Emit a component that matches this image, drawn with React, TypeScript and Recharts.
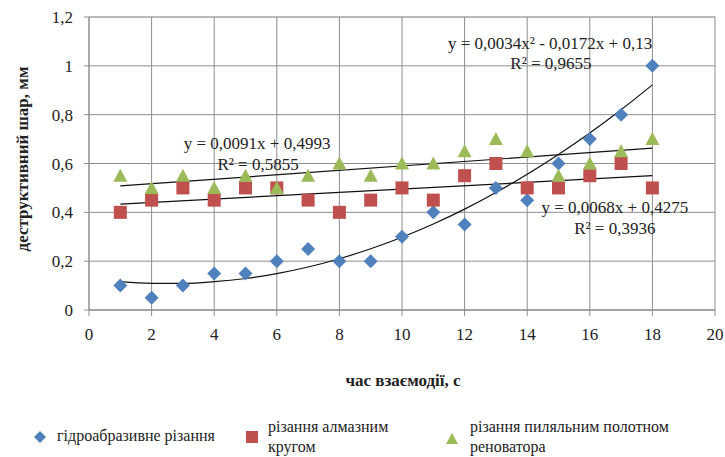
import React from 'react';
import {
  ComposedChart, Scatter, Line, XAxis, YAxis, CartesianGrid, ReferenceDot, Legend,
} from 'recharts';

const timeValues = [1, 2, 3, 4, 5, 6, 7, 8, 9, 10, 11, 12, 13, 14, 15, 16, 17, 18];
const hydroValues = [0.1, 0.05, 0.1, 0.15, 0.15, 0.2, 0.25, 0.2, 0.2, 0.3, 0.4, 0.35, 0.5, 0.45, 0.6, 0.7, 0.8, 1.0];
const diamondValues = [0.4, 0.45, 0.5, 0.45, 0.5, 0.5, 0.45, 0.4, 0.45, 0.5, 0.45, 0.55, 0.6, 0.5, 0.5, 0.55, 0.6, 0.5];
const sawValues = [0.55, 0.5, 0.55, 0.5, 0.55, 0.5, 0.55, 0.6, 0.55, 0.6, 0.6, 0.65, 0.7, 0.65, 0.55, 0.6, 0.65, 0.7];

// trend lines
const hydroTrend = [0.116, 0.109, 0.109, 0.116, 0.129, 0.149, 0.176, 0.21, 0.251, 0.298, 0.352, 0.413, 0.481, 0.556, 0.637, 0.725, 0.82, 0.922];
const diamondTrendX = [1, 18];
const diamondTrend = [0.434, 0.550];
const sawTrendX = [1, 18];
const sawTrend = [0.508, 0.663];

const xTicks = [0, 2, 4, 6, 8, 10, 12, 14, 16, 18, 20];
const yTicks = [0, 0.2, 0.4, 0.6, 0.8, 1.0, 1.2];
const yMinorTicks = [
  0, 0.04, 0.08, 0.12, 0.16, 0.2, 0.24, 0.28, 0.32, 0.36, 0.4, 0.44, 0.48, 0.52, 0.56, 0.6,
  0.64, 0.68, 0.72, 0.76, 0.8, 0.84, 0.88, 0.92, 0.96, 1.0, 1.04, 1.08, 1.12, 1.16, 1.2,
];

const seriesNames = ['гідроабразивне різання', 'різання алмазним кругом', 'різання пиляльним полотном реноватора'];
const xTitle = 'час взаємодії, с';
const yTitle = 'деструктивний шар, мм';

const equations = [
  { x: 14.73, y: 1.095, text: 'y = 0,0034x² - 0,0172x + 0,13' },
  { x: 14.76, y: 1.01, text: 'R² = 0,9655' },
  { x: 5.37, y: 0.684, text: 'y = 0,0091x + 0,4993' },
  { x: 5.4, y: 0.6, text: 'R² = 0,5855' },
  { x: 16.8, y: 0.424, text: 'y = 0,0068x + 0,4275' },
  { x: 16.8, y: 0.338, text: 'R² = 0,3936' },
];

const BLUE = '#4F81BD';
const RED = '#C0504D';
const GREEN = '#9BBB59';
const FONT = "'Liberation Serif', 'Times New Roman', serif";
const TXT = '#222';

const hydroData = timeValues.map((x, i) => ({ x, y: hydroValues[i] }));
const diamondData = timeValues.map((x, i) => ({ x, y: diamondValues[i] }));
const sawData = timeValues.map((x, i) => ({ x, y: sawValues[i] }));
const hydroTrendData = timeValues.map((x, i) => ({ x, y: hydroTrend[i] }));
const diamondTrendData = diamondTrendX.map((x, i) => ({ x, y: diamondTrend[i] }));
const sawTrendData = sawTrendX.map((x, i) => ({ x, y: sawTrend[i] }));

const Diamond = (p: any) => {
  const { cx, cy } = p;
  const r = 7;
  return <path d={`M${cx},${cy - r}L${cx + r},${cy}L${cx},${cy + r}L${cx - r},${cy}Z`} fill={BLUE} />;
};
const Square = (p: any) => {
  const { cx, cy } = p;
  const s = 6.5;
  return <rect x={cx - s} y={cy - s} width={2 * s} height={2 * s} fill={RED} />;
};
const Triangle = (p: any) => {
  const { cx, cy } = p;
  return <path d={`M${cx},${cy - 7}L${cx + 7},${cy + 6}L${cx - 7},${cy + 6}Z`} fill={GREEN} />;
};

const fmt = (v: number) => String(Math.round(v * 10) / 10).replace('.', ',');

const XTick = (p: any) => (
  <text x={p.x} y={p.y + 22} textAnchor="middle" style={{ fontFamily: FONT, fontSize: 17, fill: TXT }}>
    {p.payload.value}
  </text>
);
const YTick = (p: any) => (
  <text x={73} y={p.y + 6} textAnchor="end" style={{ fontFamily: FONT, fontSize: 17, fill: TXT }}>
    {fmt(p.payload.value)}
  </text>
);

const XTitle = () => (
  <text x={403} y={386} textAnchor="middle" style={{ fontFamily: FONT, fontSize: 17, fontWeight: 'bold', fill: TXT }}>
    {xTitle}
  </text>
);
const YTitle = () => (
  <text transform="translate(28,159) rotate(-90)" textAnchor="middle" style={{ fontFamily: FONT, fontSize: 17, fontWeight: 'bold', fill: TXT }}>
    {yTitle}
  </text>
);

const LegendContent = () => (
  <div style={{ position: 'relative', width: 725, height: 50, fontFamily: FONT, fontSize: 16, color: TXT }}>
    <svg width={725} height={50} style={{ position: 'absolute', left: 0, top: 0 }}>
      <path d="M40,19L46,25L40,31L34,25Z" fill={BLUE} />
      <rect x={246} y={19} width={12} height={12} fill={RED} />
      <path d="M452,21L458,32L446,32Z" fill={GREEN} />
    </svg>
    <div style={{ position: 'absolute', left: 57, top: 14, whiteSpace: 'nowrap', lineHeight: '20px' }}>{seriesNames[0]}</div>
    <div style={{ position: 'absolute', left: 268, top: 5, width: 140, lineHeight: '20px' }}>{seriesNames[1]}</div>
    <div style={{ position: 'absolute', left: 470, top: 5, width: 220, lineHeight: '20px' }}>{seriesNames[2]}</div>
  </div>
);

export default function App() {
  return (
    <div style={{ position: 'absolute', left: 0, top: 0, width: 725, height: 457, background: '#fff', fontFamily: FONT }}>
      <ComposedChart width={725} height={457} margin={{ top: 17, right: 10, left: 0, bottom: 117 }} style={{ fontFamily: FONT }}>
        <CartesianGrid yAxisId="minor" vertical={false} stroke="#cccccc" strokeWidth={1} />
        <CartesianGrid stroke="#8e8e8e" strokeWidth={1} />
        <XAxis
          type="number"
          dataKey="x"
          domain={[0, 20]}
          ticks={xTicks}
          height={30}
          axisLine={{ stroke: '#8e8e8e' }}
          tickLine={{ stroke: '#8e8e8e' }}
          tickSize={6}
          tick={XTick}
          label={XTitle}
        />
        <YAxis
          type="number"
          dataKey="y"
          domain={[0, 1.2]}
          ticks={yTicks}
          width={89}
          axisLine={{ stroke: '#8e8e8e' }}
          tickLine={{ stroke: '#8e8e8e' }}
          tickSize={5}
          tick={YTick}
          label={YTitle}
        />
        <YAxis yAxisId="minor" type="number" domain={[0, 1.2]} ticks={yMinorTicks} hide />
        <Line data={hydroTrendData} dataKey="y" type="monotone" stroke="#111" strokeWidth={1.2} dot={false} isAnimationActive={false} legendType="none" />
        <Line data={diamondTrendData} dataKey="y" type="linear" stroke="#111" strokeWidth={1.2} dot={false} isAnimationActive={false} legendType="none" />
        <Line data={sawTrendData} dataKey="y" type="linear" stroke="#111" strokeWidth={1.2} dot={false} isAnimationActive={false} legendType="none" />
        <Scatter name={seriesNames[0]} data={hydroData} dataKey="y" fill={BLUE} shape={Diamond} isAnimationActive={false} />
        <Scatter name={seriesNames[1]} data={diamondData} dataKey="y" fill={RED} shape={Square} isAnimationActive={false} />
        <Scatter name={seriesNames[2]} data={sawData} dataKey="y" fill={GREEN} shape={Triangle} isAnimationActive={false} />
        {equations.map((e, i) => (
          <ReferenceDot
            key={i}
            x={e.x}
            y={e.y}
            r={0}
            stroke="none"
            fill="none"
            label={{ value: e.text, position: 'center', style: { fontFamily: FONT, fontSize: 17, fill: TXT } }}
          />
        ))}
        <Legend
          layout="horizontal"
          verticalAlign="middle"
          align="center"
          content={LegendContent}
          wrapperStyle={{ position: 'absolute', left: 0, top: 412, width: 725, height: 50 }}
        />
      </ComposedChart>
    </div>
  );
}
